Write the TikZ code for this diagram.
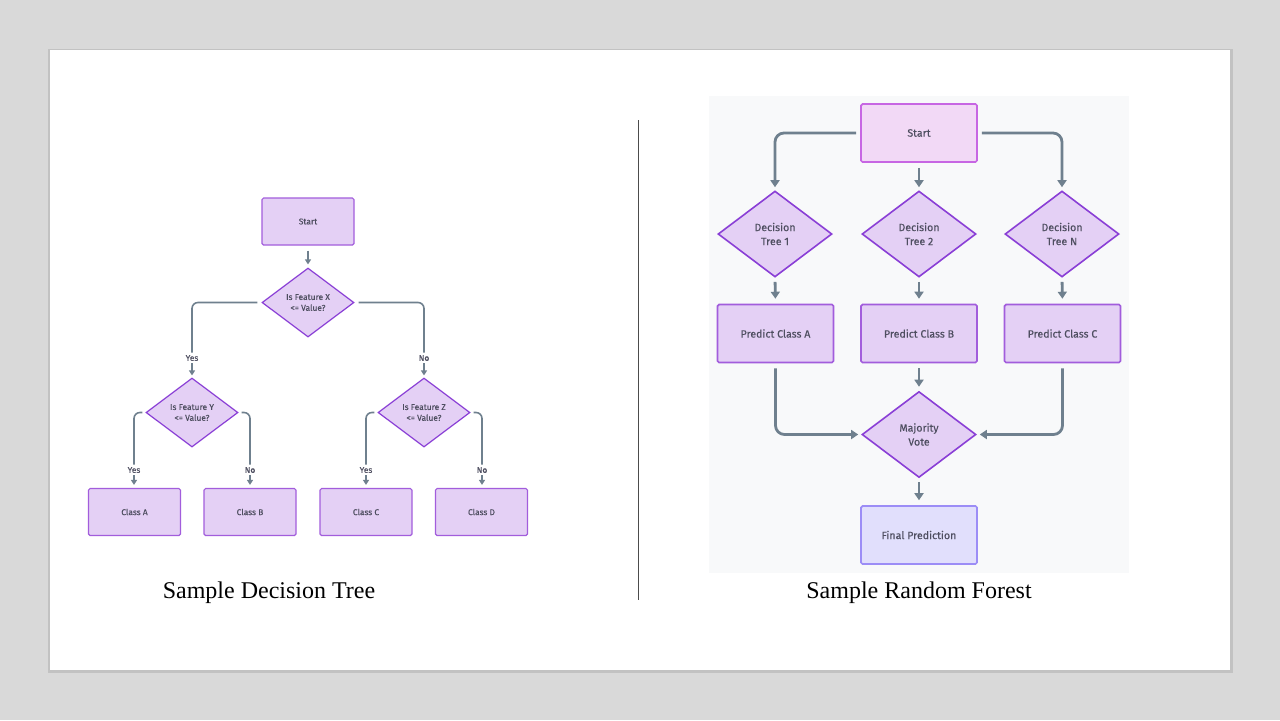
\documentclass[tikz,border=0pt]{standalone}
\usepackage{fontspec}
\setmainfont{Liberation Serif}
\newfontfamily\nodefont{Fira Sans}[FakeBold=0.25]
\usetikzlibrary{arrows.meta,shapes.geometric}
\definecolor{slidegray}{HTML}{D9D9D9}
\definecolor{shadowgray}{HTML}{C2C2C2}
\definecolor{panelgray}{HTML}{F8F9FA}
\definecolor{boxfill}{HTML}{E4D0F5}
\definecolor{boxline}{HTML}{A25DDC}
\definecolor{diaLine}{HTML}{8A3FD6}
\definecolor{startfill}{HTML}{F2D9F6}
\definecolor{startline}{HTML}{C766E3}
\definecolor{finalfill}{HTML}{E1DFFC}
\definecolor{finalline}{HTML}{9C8DF6}
\definecolor{linegray}{HTML}{6F808E}
\definecolor{textgray}{HTML}{4E4E60}
\tikzset{
  box/.style={draw=boxline, fill=boxfill, line width=0.6pt, rounded corners=0.8pt,
    minimum width=46pt, minimum height=23.5pt, inner sep=0pt, text=textgray,
    font=\nodefont\fontsize{4.2}{5.2}\selectfont},
  decision/.style={diamond, draw=diaLine, fill=boxfill, line width=0.6pt,
    minimum width=46pt, minimum height=34.5pt, inner sep=0pt, align=center,
    text=textgray, font=\nodefont\fontsize{4.2}{5.4}\selectfont},
  bigbox/.style={box, line width=0.8pt, minimum width=58pt, minimum height=29pt,
    font=\nodefont\fontsize{5.3}{6.5}\selectfont},
  bigdecision/.style={decision, line width=0.8pt, minimum width=57pt, minimum height=43pt,
    font=\nodefont\fontsize{5.3}{7}\selectfont},
  lbl/.style={inner sep=1pt, text=textgray, font=\nodefont\fontsize{4.2}{5}\selectfont},
  linkL/.style={draw=linegray, line width=0.8pt, rounded corners=3pt},
  arrowL/.style={linkL, -{Triangle[length=2.5pt,width=3pt]}},
  linkR/.style={draw=linegray, line width=1.4pt, rounded corners=4.5pt,
    -{Triangle[length=3.5pt,width=4.5pt]}},
  caption/.style={font=\fontsize{12}{14}\selectfont}
}
\begin{document}
\begin{tikzpicture}[x=0.5pt,y=-0.5pt]
  % slide
  \fill[slidegray] (0,0) rectangle (1280,720);
  \useasboundingbox (0,0) rectangle (1280,720);
  \fill[shadowgray] (48,49) rectangle (1233,673);
  \fill[white] (50,50) rectangle (1230,670);
  \draw[line width=0.5pt, black!70] (638,120) -- (638,600);

  % decision tree
  \node[box] (start) at (308,221.5) {Start};
  \node[decision] (fx) at (308,302.5) {Is Feature X\\ <= Value?};
  \node[lbl] (yx) at (192,358) {Yes};
  \node[lbl] (nx) at (424,358) {No};
  \node[decision] (fy) at (192,412.5) {Is Feature Y\\ <= Value?};
  \node[decision] (fz) at (424,412.5) {Is Feature Z\\ <= Value?};
  \node[lbl] (yy) at (134,470) {Yes};
  \node[lbl] (ny) at (250,470) {No};
  \node[lbl] (yz) at (366,470) {Yes};
  \node[lbl] (nz) at (482,470) {No};
  \node[box] (ca) at (134.5,512) {Class A};
  \node[box] (cb) at (250,512) {Class B};
  \node[box] (cc) at (366,512) {Class C};
  \node[box] (cd) at (481.5,512) {Class D};

  \draw[arrowL, shorten <=2.5pt, shorten >=1.5pt] (start.south) -- (fx.north);
  \draw[linkL, shorten <=2pt] (fx.west) -| (yx.north);
  \draw[linkL, shorten <=2pt] (fx.east) -| (nx.north);
  \draw[arrowL, shorten >=1pt] (yx.south) -- (fy.north);
  \draw[arrowL, shorten >=1pt] (nx.south) -- (fz.north);
  \draw[linkL, shorten <=1.5pt] (fy.west) -| (yy.north);
  \draw[linkL, shorten <=1.5pt] (fy.east) -| (ny.north);
  \draw[linkL, shorten <=1.5pt] (fz.west) -| (yz.north);
  \draw[linkL, shorten <=1.5pt] (fz.east) -| (nz.north);
  \draw[arrowL, shorten >=1.5pt] (yy.south) -- (yy.south |- ca.north);
  \draw[arrowL, shorten >=1.5pt] (ny.south) -- (ny.south |- cb.north);
  \draw[arrowL, shorten >=1.5pt] (yz.south) -- (yz.south |- cc.north);
  \draw[arrowL, shorten >=1.5pt] (nz.south) -- (nz.south |- cd.north);
  \node[caption] (capL) at (269,593) {Sample Decision Tree};

  % random forest
  \fill[panelgray] (709,96) rectangle (1129,573);
  \node[bigbox, draw=startline, fill=startfill] (rstart) at (919,133) {Start};
  \node[bigdecision] (t1) at (775,234) {Decision\\ Tree 1};
  \node[bigdecision] (t2) at (919,234) {Decision\\ Tree 2};
  \node[bigdecision] (tn) at (1062,234) {Decision\\ Tree N};
  \node[bigbox] (pa) at (775.5,333.5) {Predict Class A};
  \node[bigbox] (pb) at (919,333.5) {Predict Class B};
  \node[bigbox] (pc) at (1062.5,333.5) {Predict Class C};
  \node[bigdecision] (vote) at (919,434.5) {Majority\\ Vote};
  \node[bigbox, draw=finalline, fill=finalfill] (final) at (919,535) {Final Prediction};

  \draw[linkR, shorten <=2pt, shorten >=1.5pt] (rstart.west) -| (t1.north);
  \draw[linkR, shorten <=2.5pt, shorten >=1.5pt] (rstart.south) -- (t2.north);
  \draw[linkR, shorten <=2pt, shorten >=1.5pt] (rstart.east) -| (tn.north);
  \draw[linkR, shorten <=2pt, shorten >=2.5pt] (t1.south) -- (pa.north);
  \draw[linkR, shorten <=2pt, shorten >=2.5pt] (t2.south) -- (pb.north);
  \draw[linkR, shorten <=2pt, shorten >=2.5pt] (tn.south) -- (pc.north);
  \draw[linkR, shorten <=2.5pt, shorten >=1.5pt] (pa.south) |- (vote.west);
  \draw[linkR, shorten <=2.5pt, shorten >=2pt] (pb.south) -- (vote.north);
  \draw[linkR, shorten <=2.5pt, shorten >=1.5pt] (pc.south) |- (vote.east);
  \draw[linkR, shorten <=2pt, shorten >=2.5pt] (vote.south) -- (final.north);
  \node[caption] (capR) at (919,593) {Sample Random Forest};
\end{tikzpicture}
\end{document}
